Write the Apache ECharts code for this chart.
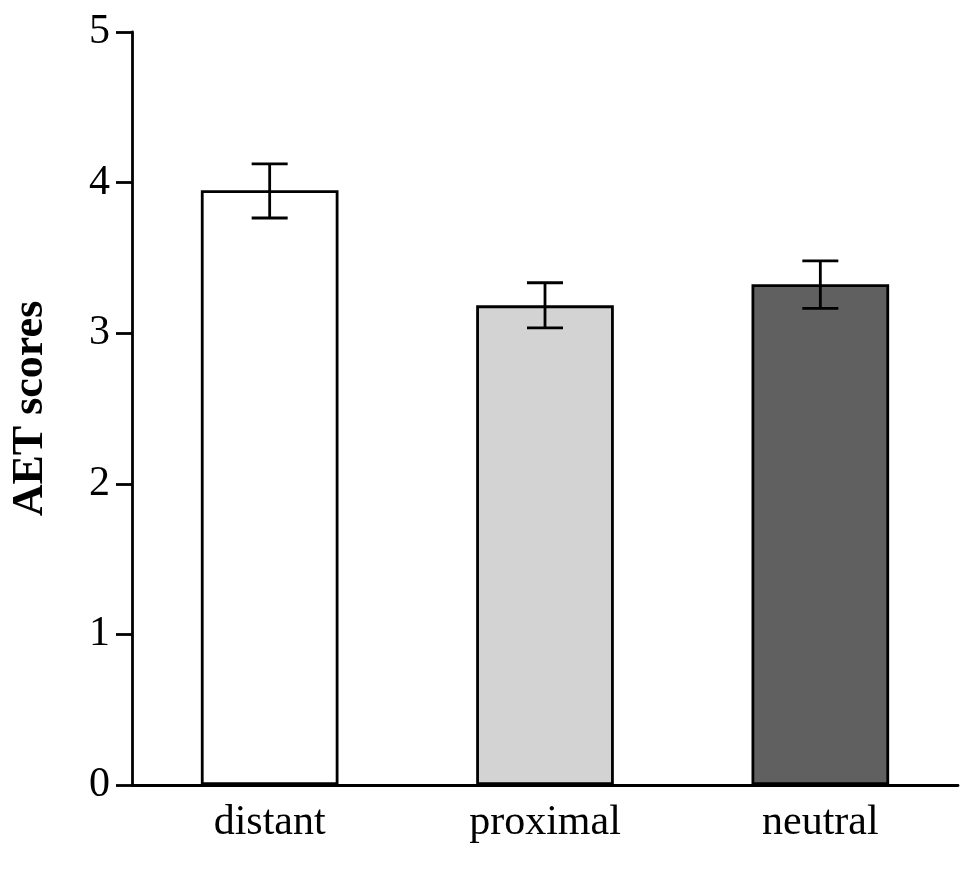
<!DOCTYPE html>
<html>
<head>
<meta charset="utf-8">
<script src="https://cdn.jsdelivr.net/npm/echarts@6/dist/echarts.min.js"></script>
<style>
  html, body { margin: 0; padding: 0; background: #fff; }
  #chart { width: 978px; height: 869px; }
</style>
</head>
<body>
<div id="chart"></div>
<script>
// data
const categories = ['distant', 'proximal', 'neutral'];
const means = [3.95, 3.185, 3.325];
const errLow = [3.765, 3.035, 3.165];
const errHigh = [4.125, 3.335, 3.48];
const barColors = ['#ffffff', '#d3d3d3', '#606060'];
const yTicks = [0, 1, 2, 3, 4, 5];

const chart = echarts.init(document.getElementById('chart'));
const font = 'Liberation Serif, Times New Roman, serif';

const option = {
    animation: false,
    backgroundColor: '#fff',
    grid: { left: 132, right: 20, top: 32, bottom: 84 },
    xAxis: {
        type: 'category',
        data: categories,
        axisLine: { lineStyle: { color: '#000', width: 2.8 } },
        axisTick: { show: false },
        axisLabel: { color: '#000', fontFamily: font, fontSize: 42, margin: 17 }
    },
    yAxis: {
        type: 'value',
        min: yTicks[0],
        max: yTicks[yTicks.length - 1],
        interval: 1,
        name: 'AET scores',
        nameLocation: 'middle',
        nameGap: 79,
        nameTextStyle: { color: '#000', fontFamily: font, fontSize: 44, fontWeight: 'bold' },
        axisLine: { show: true, lineStyle: { color: '#000', width: 2.8 } },
        axisTick: { show: true, length: 16, lineStyle: { color: '#000', width: 2.8 } },
        axisLabel: { color: '#000', fontFamily: font, fontSize: 42, margin: 22 },
        splitLine: { show: false }
    },
    series: [
        {
            type: 'bar',
            barWidth: '50%',
            data: means.map((v, i) => ({
                value: v,
                itemStyle: { color: barColors[i], borderColor: '#000', borderWidth: 2.8 }
            }))
        },
        {
            type: 'custom',
            z: 10,
            data: categories.map((c, i) => [i, errLow[i], errHigh[i]]),
            renderItem: function (params, api) {
                const lo = api.coord([api.value(0), api.value(1)]);
                const hi = api.coord([api.value(0), api.value(2)]);
                const half = 18;
                const style = { stroke: '#000', lineWidth: 2.8 };
                return {
                    type: 'group',
                    children: [
                        { type: 'line', shape: { x1: hi[0], y1: hi[1], x2: lo[0], y2: lo[1] }, style: style },
                        { type: 'line', shape: { x1: hi[0] - half, y1: hi[1], x2: hi[0] + half, y2: hi[1] }, style: style },
                        { type: 'line', shape: { x1: lo[0] - half, y1: lo[1], x2: lo[0] + half, y2: lo[1] }, style: style }
                    ]
                };
            }
        }
    ]
};
chart.setOption(option);
</script>
</body>
</html>
